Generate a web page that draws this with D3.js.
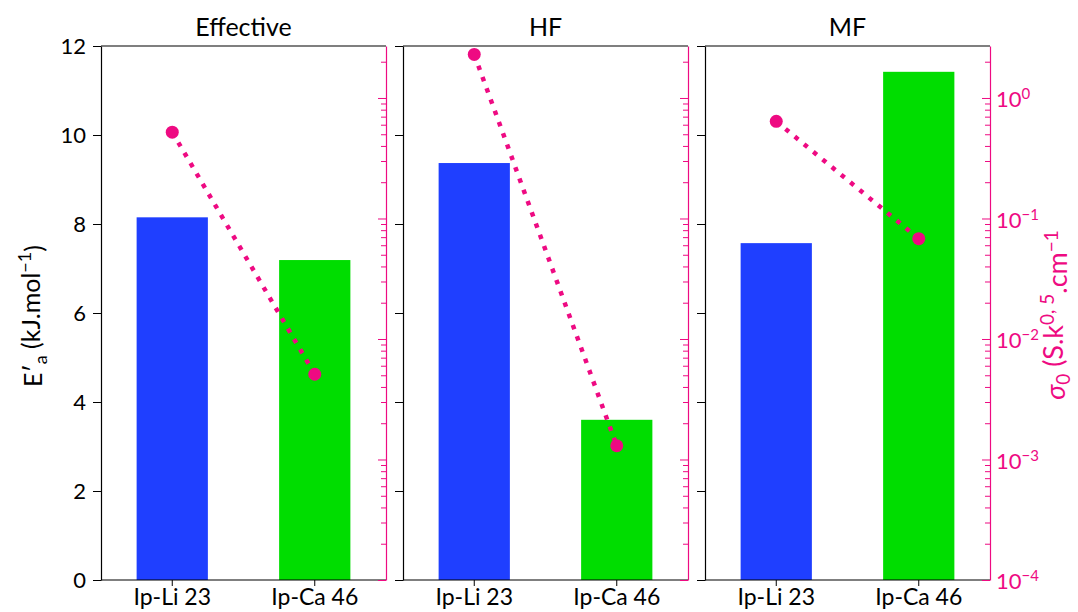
<!DOCTYPE html>
<html><head><meta charset="utf-8">
<script src="https://cdn.jsdelivr.net/npm/d3@7"></script>
<style>body{margin:0;background:#fff}svg{display:block}text{font-family:Lato,"Open Sans",sans-serif}</style>
</head><body>
<svg id="c" width="1078" height="612"></svg>
<script>
const panels = ["Effective", "HF", "MF"];
const categories = ["Ip-Li 23", "Ip-Ca 46"];
const energyValues = [[8.15, 7.19], [9.37, 3.6], [7.57, 11.42]];
const sigmaValues = [[0.52, 0.0051], [2.3, 0.0013], [0.64, 0.068]];
const barColors = ["#1f3fff", "#00dd00"];
const leftTicks = [0, 2, 4, 6, 8, 10, 12];
const rightTicks = [1e-4, 1e-3, 1e-2, 1e-1, 1e0];
const pink = "#ee0a82";

const svg = d3.select("#c");
const plotTop = 46, plotBottom = 580, pw = 285, gap = 17, x0 = 101;
const y = d3.scaleLinear().domain([0, 12]).range([plotBottom, plotTop]);
const yl = d3.scaleLog().domain([1e-4, 2.7]).range([plotBottom, plotTop]);

panels.forEach((name, i) => {
  const left = x0 + i * (pw + gap);
  const g = svg.append("g");
  const x = d3.scaleBand().domain(categories).range([left, left + pw]).paddingInner(0.5).paddingOuter(0.25);
  g.selectAll("rect.bar").data(categories).enter().append("rect")
    .attr("x", d => x(d)).attr("width", x.bandwidth())
    .attr("y", (d, j) => y(energyValues[i][j]))
    .attr("height", (d, j) => plotBottom - y(energyValues[i][j]))
    .attr("fill", (d, j) => barColors[j]);
  g.append("line").attr("x1", left).attr("x2", left + pw).attr("y1", plotTop).attr("y2", plotTop).attr("stroke", "#000").attr("stroke-width", 1.2);
  const la = d3.axisLeft(y).tickValues(leftTicks).tickSize(8).tickSizeOuter(0).tickPadding(7).tickFormat(i === 0 ? d3.format("d") : () => "");
  const lg = g.append("g").attr("transform", `translate(${left},0)`).call(la);
  lg.select(".domain").attr("stroke-width", 1.2);
  lg.selectAll("text").style("font-size", "22px").attr("fill", "#000");
  const ba = d3.axisBottom(x).tickSize(6).tickSizeOuter(0).tickPadding(3);
  const bg = g.append("g").attr("transform", `translate(0,${plotBottom})`).call(ba);
  bg.select(".domain").attr("d", `M${left},0H${left + pw}`).attr("stroke-width", 1.2);
  bg.selectAll("text").style("font-size", "23px").attr("fill", "#000");
  const minor = [];
  for (let e = -4; e <= 0; e++) for (let m = 2; m <= 9; m++) { const v = m * Math.pow(10, e); if (v <= 2.7) minor.push(v); }
  const ra = d3.axisRight(yl).tickValues(rightTicks).tickSize(-8).tickSizeOuter(0).tickFormat(() => "");
  const rg = g.append("g").attr("transform", `translate(${left + pw},0)`).call(ra);
  rg.select(".domain").attr("stroke", pink).attr("stroke-width", 1.2);
  rg.selectAll(".tick line").attr("stroke", pink);
  const rm = d3.axisRight(yl).tickValues(minor).tickSize(-5).tickFormat(() => "");
  const rmg = g.append("g").attr("transform", `translate(${left + pw},0)`).call(rm);
  rmg.select(".domain").remove();
  rmg.selectAll(".tick line").attr("stroke", pink);
  if (i === 2) {
    rg.selectAll(".tick").each(function(d) {
      const t = d3.select(this).append("text").attr("x", 6).attr("dy", "0.4em")
        .attr("fill", pink).style("font-size", "22px").attr("text-anchor", "start");
      t.append("tspan").text("10");
      const e = Math.round(Math.log10(d));
      t.append("tspan").attr("dy", "-0.55em").style("font-size", "15px").text(e === 0 ? "0" : "\u2212" + Math.abs(e));
    });
  }
  g.append("text").attr("x", left + pw / 2).attr("y", 36).attr("text-anchor", "middle").style("font-size", "25px").text(name);
  const pts = categories.map((c, j) => [x(c) + x.bandwidth() / 2, yl(sigmaValues[i][j])]);
  g.append("path").attr("d", d3.line()(pts)).attr("fill", "none").attr("stroke", pink)
    .attr("stroke-width", 4.5).attr("stroke-dasharray", "4.5,7.5");
  g.selectAll("circle").data(pts).enter().append("circle")
    .attr("cx", d => d[0]).attr("cy", d => d[1]).attr("r", 6.5).attr("fill", pink);
});

const ylab = svg.append("text").attr("transform", `translate(42,316) rotate(-90)`)
  .attr("text-anchor", "middle").style("font-size", "25px").attr("fill", "#000");
ylab.append("tspan").text("E\u2032");
ylab.append("tspan").attr("dy", "0.3em").style("font-size", "18px").text("a");
ylab.append("tspan").attr("dy", "-0.3em").text(" (kJ.mol");
ylab.append("tspan").attr("dy", "-0.5em").style("font-size", "18px").text("\u22121");
ylab.append("tspan").attr("dy", "0.5em").text(")");

const rlab = svg.append("text").attr("transform", `translate(1065,315) rotate(-90)`)
  .attr("text-anchor", "middle").style("font-size", "27px").attr("fill", pink);
rlab.append("tspan").style("font-style", "italic").text("\u03c3");
rlab.append("tspan").attr("dy", "0.25em").style("font-size", "19px").text("0");
rlab.append("tspan").attr("dy", "-0.25em").text(" (S.k");
rlab.append("tspan").attr("dy", "-0.5em").style("font-size", "19px").text("0, 5");
rlab.append("tspan").attr("dy", "0.5em").text(".cm");
rlab.append("tspan").attr("dy", "-0.5em").style("font-size", "19px").text("\u22121");
</script>
</body></html>
